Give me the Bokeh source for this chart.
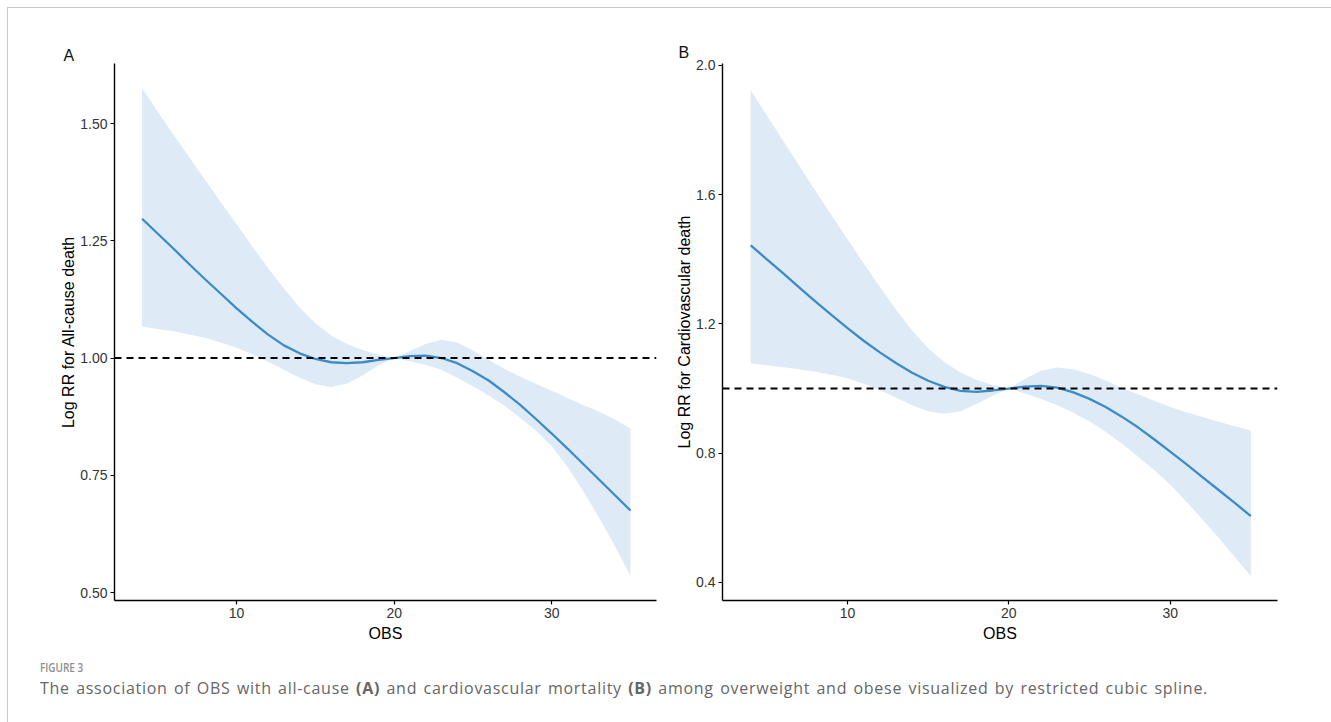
from bokeh.plotting import figure
from bokeh.models import Span, FixedTicker, Range1d, Div
from bokeh.layouts import row, column
from bokeh.embed import file_html
from bokeh.resources import INLINE

# ---------------- data ----------------
obs = list(range(4, 36))

fit_a = [1.297, 1.265, 1.233, 1.200, 1.168, 1.137, 1.106, 1.077, 1.050, 1.027,
         1.010, 0.998, 0.991, 0.989, 0.991, 0.996, 1.000, 1.004, 1.005, 1.000,
         0.989, 0.972, 0.952, 0.927, 0.900, 0.870, 0.839, 0.807, 0.774, 0.741,
         0.708, 0.675]
upper_a = [1.575, 1.525, 1.476, 1.428, 1.380, 1.332, 1.285, 1.238, 1.192, 1.148,
           1.108, 1.074, 1.048, 1.030, 1.017, 1.007, 1.000, 1.015, 1.030, 1.039,
           1.033, 1.016, 0.996, 0.977, 0.960, 0.945, 0.930, 0.915, 0.900, 0.886,
           0.869, 0.850]
lower_a = [1.067, 1.062, 1.057, 1.050, 1.043, 1.033, 1.022, 1.008, 0.992, 0.975,
           0.958, 0.944, 0.938, 0.945, 0.963, 0.984, 1.000, 0.993, 0.985, 0.975,
           0.958, 0.940, 0.920, 0.898, 0.872, 0.845, 0.812, 0.768, 0.716, 0.660,
           0.600, 0.535]

fit_b = [1.443, 1.400, 1.357, 1.313, 1.270, 1.228, 1.187, 1.148, 1.112, 1.079,
         1.049, 1.024, 1.005, 0.993, 0.990, 0.994, 1.000, 1.006, 1.008, 1.003,
         0.988, 0.968, 0.943, 0.913, 0.880, 0.843, 0.805, 0.766, 0.726, 0.686,
         0.646, 0.605]
upper_b = [1.923, 1.845, 1.768, 1.690, 1.613, 1.537, 1.462, 1.388, 1.315, 1.245,
           1.180, 1.125, 1.082, 1.050, 1.027, 1.011, 1.000, 1.030, 1.055, 1.065,
           1.060, 1.045, 1.025, 1.002, 0.982, 0.962, 0.943, 0.927, 0.912, 0.897,
           0.883, 0.870]
lower_b = [1.078, 1.072, 1.066, 1.060, 1.052, 1.043, 1.032, 1.015, 0.995, 0.972,
           0.948, 0.930, 0.922, 0.930, 0.952, 0.978, 1.000, 0.985, 0.968, 0.948,
           0.925, 0.898, 0.866, 0.830, 0.790, 0.748, 0.703, 0.650, 0.595, 0.538,
           0.479, 0.420]

x_ticks = [10, 20, 30]
y_ticks_a = [0.50, 0.75, 1.00, 1.25, 1.50]
y_labels_a = ["0.50", "0.75", "1.00", "1.25", "1.50"]
y_ticks_b = [0.4, 0.8, 1.2, 1.6, 2.0]
y_labels_b = ["0.4", "0.8", "1.2", "1.6", "2.0"]
reference_value = 1.0

panel_a_letter = "A"
panel_b_letter = "B"
x_title = "OBS"
y_title_a = "Log RR for All-cause death"
y_title_b = "Log RR for Cardiovascular death"
fig_label = "FIGURE 3"
caption = ("The association of OBS with all-cause <b>(A)</b> and cardiovascular mortality "
           "<b>(B)</b> among overweight and obese visualized by restricted cubic spline.")

LINE = "#3d8bc6"
BAND = "#deebf7"
FONT = "Liberation Sans"


def panel(letter, fit, lo, hi, yt, yl, ytitle, yr, width, bl, br, letter_offset, letter_standoff):
    p = figure(width=width, height=650, output_backend="svg", toolbar_location=None,
               x_range=Range1d(2.25, 36.65), y_range=Range1d(*yr),
               min_border_left=bl, min_border_right=br, min_border_top=55,
               min_border_bottom=58, title=letter)
    p.title.text_font = FONT
    p.title.text_font_size = "16px"
    p.title.text_font_style = "normal"
    p.title.text_color = "#111111"
    p.title.align = "left"
    p.title.offset = letter_offset
    p.title.standoff = letter_standoff
    p.outline_line_color = None
    p.xgrid.visible = False
    p.ygrid.visible = False
    p.background_fill_color = "white"
    p.border_fill_color = "white"

    p.varea(x=obs, y1=lo, y2=hi, fill_color=BAND, fill_alpha=1.0)
    p.line(x=obs, y=fit, line_color=LINE, line_width=2.3)
    p.add_layout(Span(location=reference_value, dimension="width", line_color="black",
                      line_width=2, line_dash="7 5"))

    for ax in (p.xaxis[0], p.yaxis[0]):
        ax.axis_line_color = "black"
        ax.axis_line_width = 1.4
        ax.major_tick_line_color = "black"
        ax.major_tick_line_width = 1.2
        ax.major_tick_out = 4
        ax.major_tick_in = 0
        ax.minor_tick_line_color = None
        ax.major_label_text_font = FONT
        ax.major_label_text_font_size = "14px"
        ax.major_label_text_color = "#333333"
        ax.axis_label_text_font = FONT
        ax.axis_label_text_font_size = "16px"
        ax.axis_label_text_font_style = "normal"
        ax.axis_label_text_color = "black"
        ax.major_label_standoff = 3
    p.xaxis.axis_label_standoff = 4
    p.yaxis.axis_label_standoff = 0
    p.xaxis.ticker = FixedTicker(ticks=x_ticks)
    p.yaxis.ticker = FixedTicker(ticks=yt)
    p.yaxis.major_label_overrides = {t: l for t, l in zip(yt, yl)}
    p.xaxis.axis_label = x_title
    p.yaxis.axis_label = ytitle
    return p


pA = panel(panel_a_letter, fit_a, lower_a, upper_a, y_ticks_a, y_labels_a, y_title_a,
           (0.483, 1.628), 661, 106, 13, -51, 0)
pB = panel(panel_b_letter, fit_b, lower_b, upper_b, y_ticks_b, y_labels_b, y_title_b,
           (0.344, 2.006), 655, 53, 47, -44, 5)

cap = Div(width=1313, height=60, text=(
    "<div style=\"padding-left:27px;font-family:'Open Sans';margin-top:-3px;\">"
    "<div style='height:16px;line-height:16px;'>"
    "<span style='display:inline-block;font-size:12px;font-weight:600;color:#8f8f8f;"
    "line-height:16px;transform:scaleX(0.83);transform-origin:left center;'>"
    + fig_label + "</span></div>"
    "<div style='font-size:16px;line-height:24px;color:#666666;white-space:nowrap;"
    "letter-spacing:0.72px;word-spacing:1.5px;'>"
    + caption + "</div></div>"))

layout = column(row(pA, pB), cap,
                styles={"margin-left": "7px", "margin-top": "7px",
                        "border-top": "1px solid #c8c8c8",
                        "border-left": "1px solid #c8c8c8",
                        "border-right": "1px solid #c8c8c8"})

open("out.html", "w").write(file_html(layout, INLINE))
